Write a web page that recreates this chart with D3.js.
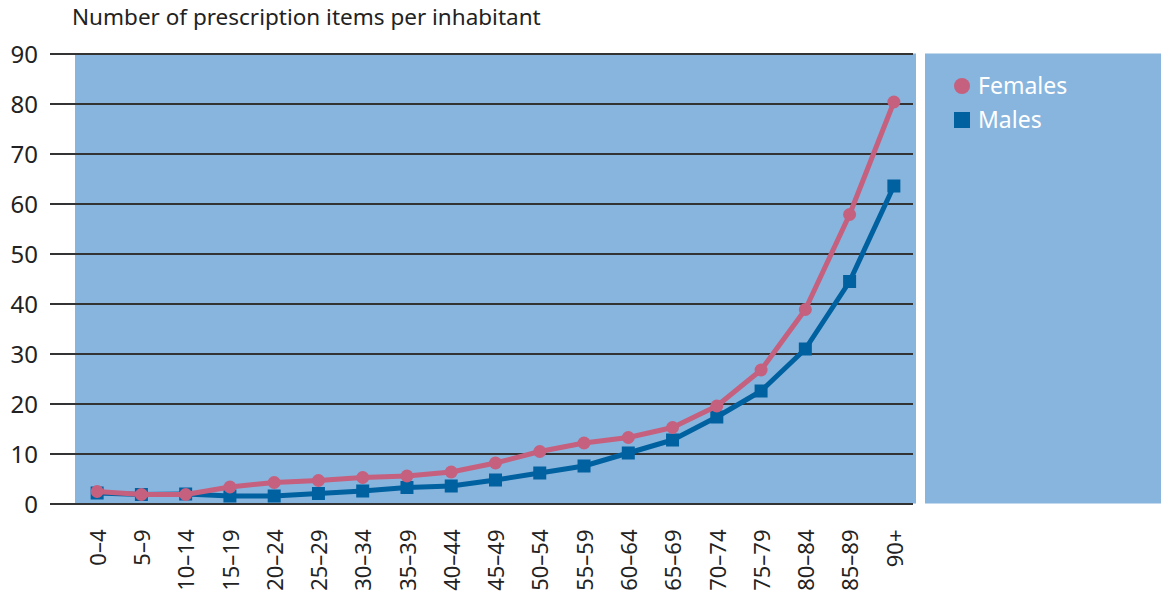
<!DOCTYPE html>
<html>
<head>
<meta charset="utf-8">
<script src="https://cdn.jsdelivr.net/npm/d3@7"></script>
<style>
  html, body { margin: 0; padding: 0; background: #fff; }
  svg { display: block; font-family: "Noto Sans", "Open Sans", sans-serif; }
</style>
</head>
<body>
<svg id="chart" width="1161" height="603"></svg>
<script>
const categories = ["0–4","5–9","10–14","15–19","20–24","25–29","30–34","35–39","40–44","45–49","50–54","55–59","60–64","65–69","70–74","75–79","80–84","85–89","90+"];
const females = [2.4, 1.8, 1.8, 3.3, 4.2, 4.6, 5.2, 5.5, 6.3, 8.1, 10.4, 12.1, 13.2, 15.2, 19.5, 26.7, 38.8, 57.8, 80.3];
const males   = [2.1, 1.8, 1.9, 1.5, 1.5, 2.0, 2.5, 3.2, 3.5, 4.7, 6.1, 7.5, 10.1, 12.7, 17.3, 22.5, 30.9, 44.4, 63.5];
const yTicks = [0, 10, 20, 30, 40, 50, 60, 70, 80, 90];
const title = "Number of prescription items per inhabitant";
const seriesNames = ["Females", "Males"];

const svg = d3.select("#chart");
const plotLeft = 75, plotRight = 916, plotTop = 53.5, plotBottom = 503.5;
const gridLeft = 50;

const x = d3.scaleBand().domain(categories).range([plotLeft, plotRight]).padding(0);
const y = d3.scaleLinear().domain([0, 90]).range([plotBottom, plotTop]);

// title
svg.append("text").attr("x", 72).attr("y", 25)
  .attr("font-size", 22.5).attr("fill", "#222").text(title);

// plot background
svg.append("rect").attr("x", plotLeft).attr("y", plotTop)
  .attr("width", plotRight - plotLeft).attr("height", plotBottom - plotTop)
  .attr("fill", "#88b5dd");

// legend box
svg.append("rect").attr("x", 925).attr("y", plotTop)
  .attr("width", 1161 - 925).attr("height", plotBottom - plotTop)
  .attr("fill", "#88b5dd");

// grid lines + y axis labels
const yAxis = d3.axisLeft(y).tickValues(yTicks).tickSize(0).tickPadding(0);
const gy = svg.append("g").attr("transform", `translate(${gridLeft},0)`).call(yAxis);
gy.select(".domain").remove();
gy.selectAll(".tick line").attr("x1", 0).attr("x2", plotRight - 3 - gridLeft)
  .attr("stroke", "#333").attr("stroke-width", 2);
gy.selectAll(".tick text").attr("x", -12).attr("dy", "0.36em")
  .attr("font-size", 24).attr("fill", "#222").attr("font-family", "Noto Sans, sans-serif");

// x axis labels
const xAxis = d3.axisBottom(x).tickSize(0).tickPadding(0);
const gx = svg.append("g").attr("transform", `translate(0,${plotBottom})`).call(xAxis);
gx.select(".domain").remove();
gx.selectAll(".tick text")
  .attr("transform", "translate(1,26) rotate(-90)")
  .attr("text-anchor", "end").attr("x", 0).attr("y", 0).attr("dy", "0.35em")
  .attr("font-size", 22).attr("fill", "#222").attr("font-family", "Noto Sans, sans-serif");

const cx = d => x(d) + x.bandwidth() / 2;

function drawSeries(values, color, shape) {
  const line = d3.line().x((d, i) => cx(categories[i])).y(d => y(d));
  svg.append("path").datum(values).attr("d", line)
    .attr("fill", "none").attr("stroke", color).attr("stroke-width", 5)
    .attr("stroke-linejoin", "round");
  const g = svg.append("g");
  if (shape === "circle") {
    g.selectAll("circle").data(values).join("circle")
      .attr("cx", (d, i) => cx(categories[i])).attr("cy", d => y(d))
      .attr("r", 6.5).attr("fill", color);
  } else {
    const s = 13;
    g.selectAll("rect").data(values).join("rect")
      .attr("x", (d, i) => cx(categories[i]) - s / 2).attr("y", d => y(d) - s / 2)
      .attr("width", s).attr("height", s).attr("fill", color);
  }
}
drawSeries(males, "#0061a0", "square");
drawSeries(females, "#c5607f", "circle");

// legend
const lg = svg.append("g");
lg.append("circle").attr("cx", 962).attr("cy", 86).attr("r", 8).attr("fill", "#c5607f");
lg.append("rect").attr("x", 954).attr("y", 112).attr("width", 16).attr("height", 16).attr("fill", "#0061a0");
lg.append("text").attr("x", 978).attr("y", 86).attr("dy", "0.36em")
  .attr("font-size", 23).attr("fill", "#fff").text(seriesNames[0]);
lg.append("text").attr("x", 978).attr("y", 120).attr("dy", "0.36em")
  .attr("font-size", 23).attr("fill", "#fff").text(seriesNames[1]);
</script>
</body>
</html>
